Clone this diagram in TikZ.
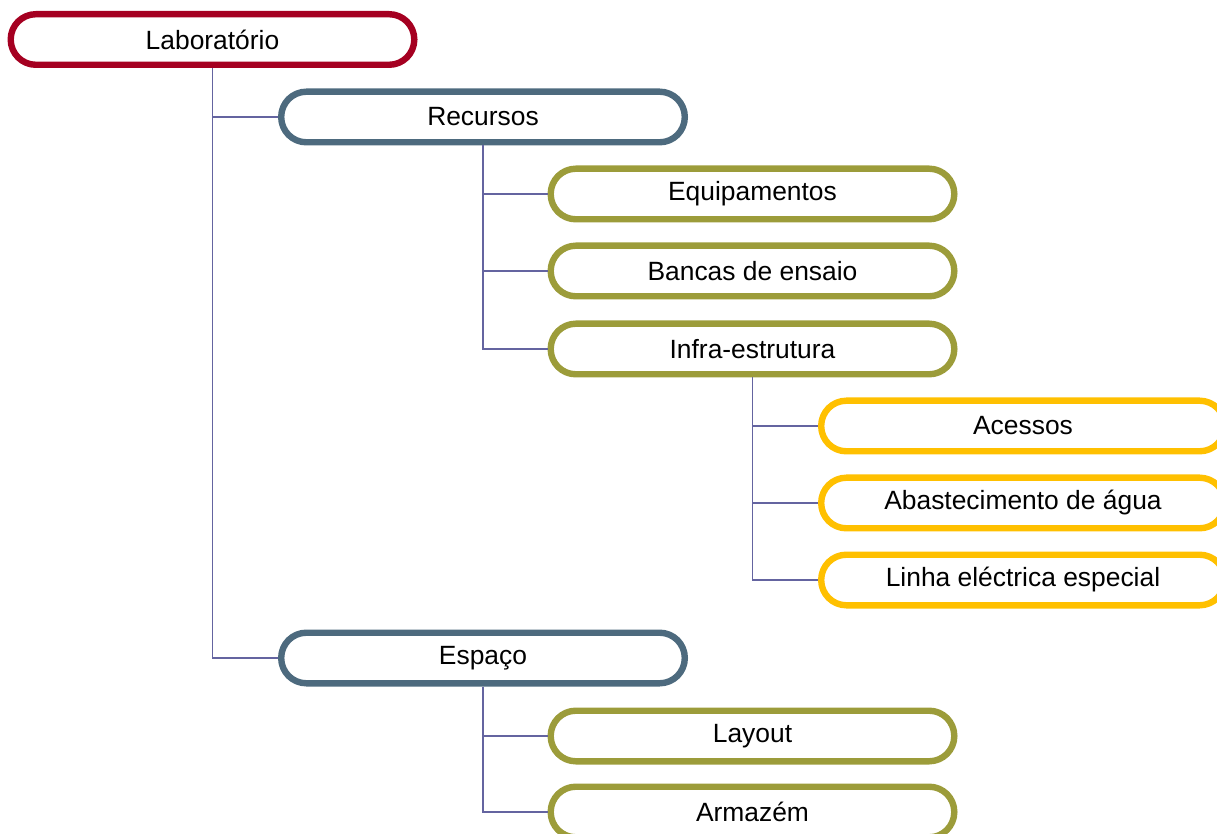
\documentclass[tikz,border=0pt]{standalone}
\usepackage{fontspec}
\setmainfont{Liberation Sans}
\usetikzlibrary{positioning}

\definecolor{labred}{HTML}{A50021}
\definecolor{slateblue}{HTML}{4D6A7E}
\definecolor{olive}{HTML}{9C9C3A}
\definecolor{amber}{HTML}{FFC000}
\definecolor{linkpurple}{HTML}{6464A0}

\begin{document}
\begin{tikzpicture}[x=0.5pt, y=-0.5pt,
	box/.style={draw, rectangle, fill=white, line width=3.2pt, rounded corners=12.6pt, minimum width=201.8pt, minimum height=25.3pt, inner sep=0pt, font=\fontsize{13.2}{15}\selectfont},
	link/.style={draw=linkpurple, line width=0.7pt}]
		
		\clip (0, 0) rectangle (1217, 834);
		
		% Root
		\node[box, draw=labred] (lab) at (212.5, 39.5) {Laborat\'orio};
		
		% Recursos branch
		\node[box, draw=slateblue] (rec) at (483, 117) {Recursos};
		\node[box, draw=olive] (equip) at (752.5, 194) {Equipamentos};
		\node[box, draw=olive] (bancas) at (752.5, 271) {Bancas de ensaio};
		\node[box, draw=olive] (infra) at (752.5, 349) {Infra-estrutura};
		\node[box, draw=amber] (acess) at (1023, 426) {Acessos};
		\node[box, draw=amber] (abast) at (1023, 503) {Abastecimento de \'agua};
		\node[box, draw=amber] (linha) at (1023, 580) {Linha el\'ectrica especial};
		
		% Espaco branch
		\node[box, draw=slateblue] (espaco) at (483, 658) {Espa\c{c}o};
		\node[box, draw=olive] (layout) at (752.5, 736) {Layout};
		\node[box, draw=olive] (armaz) at (752.5, 812) {Armaz\'em};
		
		% Connectors
		\path[link] (lab.south) |- (rec.west);
		\path[link] (lab.south) |- (espaco.west);
		\path[link] (rec.south) |- (equip.west);
		\path[link] (rec.south) |- (bancas.west);
		\path[link] (rec.south) |- (infra.west);
		\path[link] (infra.south) |- (acess.west);
		\path[link] (infra.south) |- (abast.west);
		\path[link] (infra.south) |- (linha.west);
		\path[link] (espaco.south) |- (layout.west);
		\path[link] (espaco.south) |- (armaz.west);
		
	\end{tikzpicture}
\end{document}
